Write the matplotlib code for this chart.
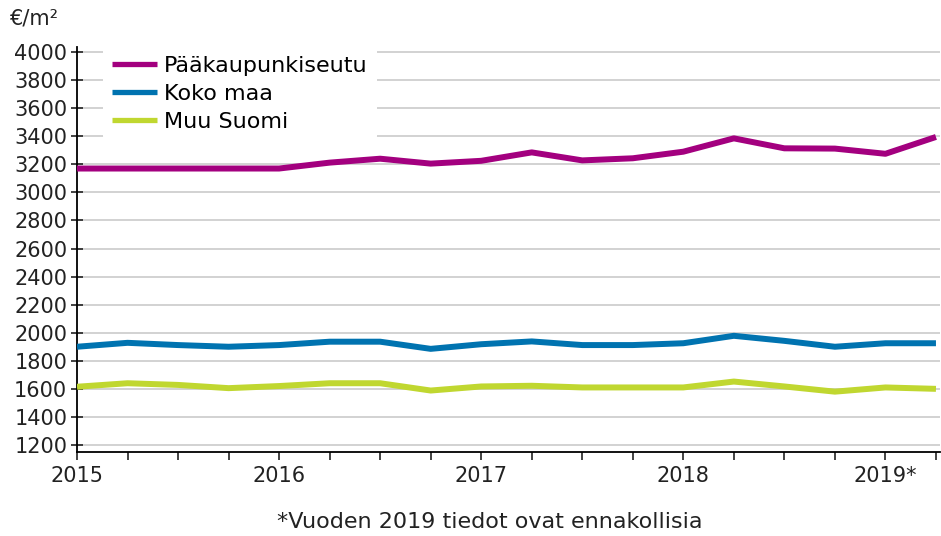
import matplotlib
matplotlib.use("Agg")
import matplotlib.pyplot as plt
from matplotlib.ticker import FixedLocator

quarters = ["2015Q1", "2015Q2", "2015Q3", "2015Q4",
            "2016Q1", "2016Q2", "2016Q3", "2016Q4",
            "2017Q1", "2017Q2", "2017Q3", "2017Q4",
            "2018Q1", "2018Q2", "2018Q3", "2018Q4",
            "2019Q1", "2019Q2"]
year_labels = ["2015", "2016", "2017", "2018", "2019*"]

paakaupunkiseutu = [3170, 3170, 3170, 3170, 3170, 3212, 3240, 3205, 3225, 3285,
                    3228, 3243, 3290, 3385, 3314, 3312, 3275, 3395]
koko_maa = [1900, 1928, 1912, 1900, 1912, 1936, 1936, 1885, 1918, 1938,
            1912, 1912, 1925, 1978, 1942, 1900, 1925, 1925]
muu_suomi = [1615, 1640, 1628, 1605, 1620, 1640, 1640, 1588, 1617, 1622,
             1610, 1610, 1610, 1652, 1617, 1580, 1610, 1600]

series_names = ["Pääkaupunkiseutu", "Koko maa", "Muu Suomi"]
colors = ["#a3007f", "#0073b0", "#c0d730"]

fig = plt.figure(figsize=(9.41, 5.36), dpi=100)
ax = fig.add_axes([77/941, 84/536, 863/941, 405/536])

x = list(range(len(quarters)))
for name, vals, c in zip(series_names, [paakaupunkiseutu, koko_maa, muu_suomi], colors):
    ax.plot(x, vals, color=c, lw=4.3, label=name, solid_capstyle="butt",
            solid_joinstyle="round", zorder=3)

ax.set_xlim(0, 17.08)
ax.set_ylim(1150, 4036)
ax.set_yticks(range(1200, 4001, 200))
ax.yaxis.grid(True, color="#cfcfcf", lw=1.3, zorder=0)
ax.set_axisbelow(True)

ax.xaxis.set_major_locator(FixedLocator(x))
ax.set_xticklabels([year_labels[i // 4] if i % 4 == 0 else "" for i in x])

for s in ["top", "right"]:
    ax.spines[s].set_visible(False)
ax.spines["left"].set_linewidth(1.3)
ax.spines["bottom"].set_linewidth(1.3)
ax.tick_params(axis="y", direction="inout", length=8, width=1.2, labelsize=15, pad=3, colors="#222222")
ax.tick_params(axis="x", direction="out", length=6, width=1.2, labelsize=15, pad=4, colors="#222222")
for lbl in ax.get_xticklabels() + ax.get_yticklabels():
    lbl.set_color("#222222")

leg = ax.legend(loc="upper left", bbox_to_anchor=(0.03, 1.0), frameon=True, fontsize=16,
                handlelength=2.05, handletextpad=0.3, labelspacing=0.36,
                borderaxespad=0.0, borderpad=0.4)
leg.get_frame().set_edgecolor("none")
leg.get_frame().set_facecolor("white")
leg.get_frame().set_alpha(1)
for h in leg.get_lines():
    h.set_linewidth(3.8)

fig.text(10/941, 1 - 19/536, "€/m²", fontsize=15, va="center", ha="left", color="#222222")
fig.text(490/941, 1 - 522/536, "*Vuoden 2019 tiedot ovat ennakollisia", fontsize=16,
         va="center", ha="center", color="#222222")

fig.savefig("out.png", dpi=100)
